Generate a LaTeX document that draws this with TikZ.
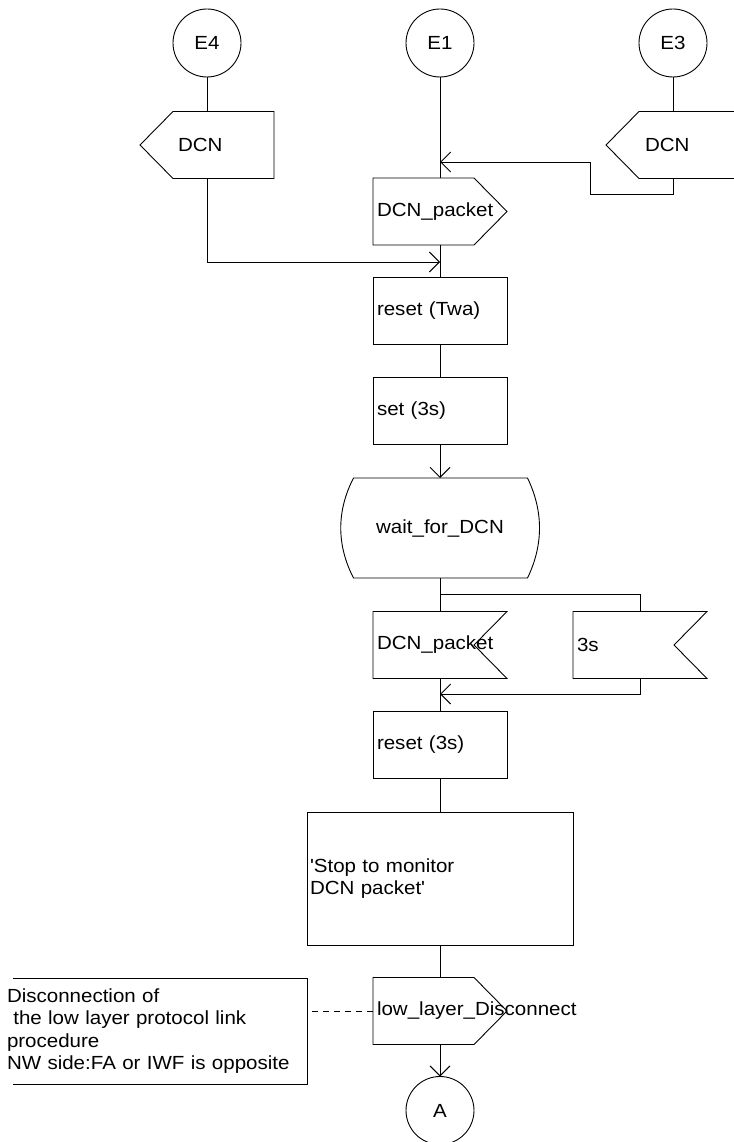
\documentclass[tikz,border=0pt]{standalone}
\usepackage{fontspec}
\setmainfont{Liberation Sans}[FakeStretch=1.08,Ligatures=TeXOff]
\usetikzlibrary{arrows.meta,calc}
\begin{document}
\begin{tikzpicture}[x=1pt,y=-1pt]
\tikzset{
 every node/.style={font=\fontsize{19pt}{22.3pt}\selectfont},
 ln/.style={line width=0.9pt},
 arr/.style={ln,-{Straight Barb[length=10pt,width=20pt]}},
 sbox/.style={minimum width=134pt, minimum height=67pt, inner xsep=4pt, inner ysep=0pt, text width=126pt, align=left, outer sep=0pt},
 taskbox/.style={sbox, draw, ln},
 conn/.style={circle, draw, ln, minimum size=68pt, inner sep=0pt, outer sep=0pt},
}
\useasboundingbox (0,0) rectangle (733,1142);
% connectors (circles)
\node[conn] (e4) at (207,43) {E4};
\node[conn] (e1) at (440,43) {E1};
\node[conn] (e3) at (673,43) {E3};
% signal / task nodes
\node[sbox] (e4dcn) at (207,145) {\hspace*{34pt}DCN};
\node[sbox] (e3dcn) at (673,145) {\hspace*{35pt}DCN};
\node[sbox] (pkt) at (440,211.5) {DCN\_packet};
\node[taskbox] (twa) at (440,310.5) {reset (Twa)};
\node[taskbox] (set) at (440,411) {set (3s)};
\node[sbox, minimum width=199pt, minimum height=100pt, text width=191pt, align=center] (wait) at (440,528) {wait\_for\_DCN};
\node[sbox] (in1) at (440,645) {DCN\_packet};
\node[sbox] (in2) at (640,645) {3s};
\node[taskbox] (r3) at (440,745) {reset (3s)};
\node[taskbox, minimum width=266pt, minimum height=133pt, text width=260pt, inner xsep=3pt] (stop) at (440,878.5) {'Stop to monitor\\DCN packet'};
\node[sbox] (low) at (440,1011) {low\_layer\_Disconnect};
\node[conn] (A) at (440,1110.5) {A};
\node[sbox, minimum width=300pt, minimum height=106pt, text width=300pt, inner xsep=0pt] (cmt) at (157,1031) {Disconnection of\\\ the low layer protocol link\\procedure\\NW side:FA or IWF is opposite};
% shapes
\draw[ln] (e4dcn.west) -- ($(e4dcn.north west)+(33,0)$) -- (e4dcn.north east) -- (e4dcn.south east) -- ($(e4dcn.south west)+(33,0)$) -- cycle;
\draw[ln] (e3dcn.west) -- ($(e3dcn.north west)+(33,0)$) -- (e3dcn.north east) -- (e3dcn.south east) -- ($(e3dcn.south west)+(33,0)$) -- cycle;
\draw[ln] (pkt.north west) -- ($(pkt.north east)+(-33,0)$) -- (pkt.east) -- ($(pkt.south east)+(-33,0)$) -- (pkt.south west) -- cycle;
\draw[ln] (low.north west) -- ($(low.north east)+(-33,0)$) -- (low.east) -- ($(low.south east)+(-33,0)$) -- (low.south west) -- cycle;
\draw[ln] (in1.north west) -- (in1.north east) -- ($(in1.east)+(-33,0)$) -- (in1.south east) -- (in1.south west) -- cycle;
\draw[ln] (in2.north west) -- (in2.north east) -- ($(in2.east)+(-33,0)$) -- (in2.south east) -- (in2.south west) -- cycle;
\draw[ln] ($(wait.north west)+(13,0)$) -- ($(wait.north east)+(-12,0)$)
  .. controls ($(wait.north east)+(4,33)$) and ($(wait.south east)+(4,-33)$) .. ($(wait.south east)+(-12,0)$)
  -- ($(wait.south west)+(13,0)$)
  .. controls ($(wait.south west)+(-4,-33)$) and ($(wait.north west)+(-4,33)$) .. cycle;
\draw[ln] ($(cmt.north west)+(6,0)$) -- (cmt.north east) -- (cmt.south east) -- ($(cmt.south west)+(6,0)$);
% flow lines
\draw[ln] (e4.south) -- (e4dcn.north);
\draw[ln] (e3.south) -- (e3dcn.north);
\draw[ln] (e1.south) -- (pkt.north);
\coordinate (j1) at (440,162);
\draw[arr] (e3dcn.south) |- ($(e3dcn.south)+(-83,16)$) |- (j1);
\coordinate (j2) at (440,262);
\draw[arr] (e4dcn.south) |- (j2);
\draw[ln] (pkt.south) -- (twa.north);
\draw[ln] (twa.south) -- (set.north);
\draw[arr] (set.south) -- (wait.north);
\draw[ln] (wait.south) -- (in1.north);
\coordinate (j3) at (440,594);
\draw[ln] (j3) -| (in2.north);
\draw[ln] (in1.south) -- (r3.north);
\coordinate (j4) at (440,694);
\draw[arr] (in2.south) |- (j4);
\draw[ln] (r3.south) -- (stop.north);
\draw[ln] (stop.south) -- (low.north);
\draw[arr] (low.south) -- (A.north);
\draw[ln, dash pattern=on 6pt off 5pt] (low.west) -- (low.west -| cmt.east);
\end{tikzpicture}
\end{document}
